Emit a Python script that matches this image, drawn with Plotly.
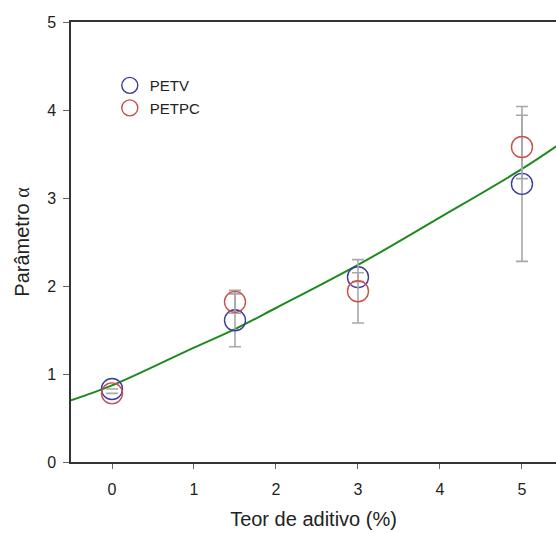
import plotly.graph_objects as go

# Data
x_vals = [0, 1.5, 3, 5]
petv = [0.83, 1.61, 2.10, 3.16]
petv_err = [0.0, 0.30, 0.05, 0.88]
petpc = [0.78, 1.82, 1.94, 3.58]
petpc_err = [0.0, 0.13, 0.36, 0.36]

# Fitted curve
fit_x = [-0.5, 0, 1, 1.5, 2, 3, 4, 5, 5.5]
fit_y = [0.70, 0.87, 1.30, 1.51, 1.75, 2.24, 2.78, 3.33, 3.64]

x_ticks = [0, 1, 2, 3, 4, 5]
y_ticks = [0, 1, 2, 3, 4, 5]

FONT = "Liberation Sans, Arial, sans-serif"
BLUE = "#3c3c9c"
RED = "#c8504c"
GREEN = "#1e8a1e"
GREY = "#a8a8a8"
TXT = "#222"

fig = go.Figure()

fig.add_trace(go.Scatter(
    x=fit_x, y=fit_y, mode="lines", line=dict(color=GREEN, width=2, shape="spline"),
    showlegend=False, hoverinfo="skip"))

fig.add_trace(go.Scatter(
    x=x_vals, y=petv, mode="markers", name="PETV",
    marker=dict(symbol="circle-open", size=21, color=BLUE, line=dict(width=1.4, color=BLUE)),
    error_y=dict(type="data", array=petv_err, color=GREY, thickness=1.6, width=6)))

fig.add_trace(go.Scatter(
    x=x_vals, y=petpc, mode="markers", name="PETPC",
    marker=dict(symbol="circle-open", size=21, color=RED, line=dict(width=1.4, color=RED)),
    error_y=dict(type="data", array=petpc_err, color=GREY, thickness=1.6, width=6)))

fig.update_layout(
    width=556, height=533,
    margin=dict(l=71, r=0, t=22, b=71),
    paper_bgcolor="white", plot_bgcolor="white",
    font=dict(family=FONT, size=15, color=TXT),
    legend=dict(x=0.08, y=0.893, xanchor="left", yanchor="top",
                bgcolor="rgba(0,0,0,0)", font=dict(size=15, color=TXT),
                itemsizing="trace", tracegroupgap=0),
    xaxis=dict(
        range=[-0.5, 5.415], tickvals=x_ticks, ticktext=[str(v) for v in x_ticks],
        showgrid=False, zeroline=False, showline=True, linecolor="#333", linewidth=1.5,
        mirror=True, ticks="outside", ticklen=5, tickcolor="#666", tickwidth=1,
        ticklabelstandoff=7,
        tickfont=dict(size=16, family=FONT, color=TXT),
        title=dict(text="Teor de aditivo (%)", font=dict(size=20, family=FONT, color=TXT), standoff=15),
    ),
    yaxis=dict(
        range=[0, 5], tickvals=y_ticks, ticktext=[str(v) for v in y_ticks],
        showgrid=False, zeroline=False, showline=True, linecolor="#333", linewidth=1.5,
        mirror=False, ticks="outside", ticklen=6, tickcolor="#666", tickwidth=1,
        ticklabelstandoff=4,
        tickfont=dict(size=16, family=FONT, color=TXT),
        title=dict(text="Parâmetro <span style='font-family:Liberation Serif'>α</span>",
                   font=dict(size=20, family=FONT, color=TXT), standoff=12),
    ),
)

fig.write_html("out.html")
